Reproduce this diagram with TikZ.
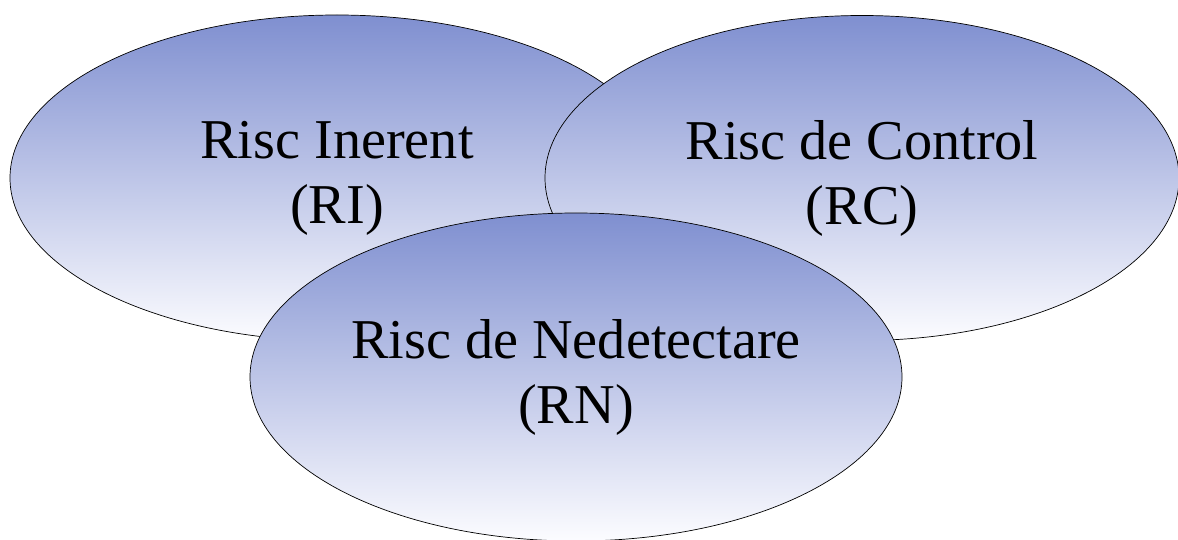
\documentclass[tikz,border=0pt]{standalone}
\usepackage{fontspec}
\setmainfont{Liberation Serif}
\usepackage{tikz}
\usetikzlibrary{shapes.geometric}
\usepackage{xcolor}
\definecolor{riskblue}{RGB}{127,143,208}
\definecolor{riskwhite}{RGB}{252,252,255}

\begin{document}
\begin{tikzpicture}[node distance=10.5cm,
		thin,risk node/.style={ellipse,draw,inner sep=0pt,align=center,
			top color=riskblue,bottom color=riskwhite,
			font=\fontsize{32pt}{37pt}\selectfont}]
	\useasboundingbox (0,0) rectangle (23.56,-10.8);
	% Nodes
	  \node[risk node,minimum width=13.08cm,minimum height=6.52cm] (RI) at (6.74,-3.56) {Risc Inerent\\(RI)};
	  \node[risk node,minimum width=12.68cm,minimum height=6.5cm] (RC) [right of = RI] {Risc de Control\\(RC)};
	  \node[risk node,minimum width=13.04cm,minimum height=6.56cm] (RN) [below of = RI, node distance=3.98cm, xshift=4.78cm] {Risc de Nedetectare\\(RN)};
\end{tikzpicture}
\end{document}
